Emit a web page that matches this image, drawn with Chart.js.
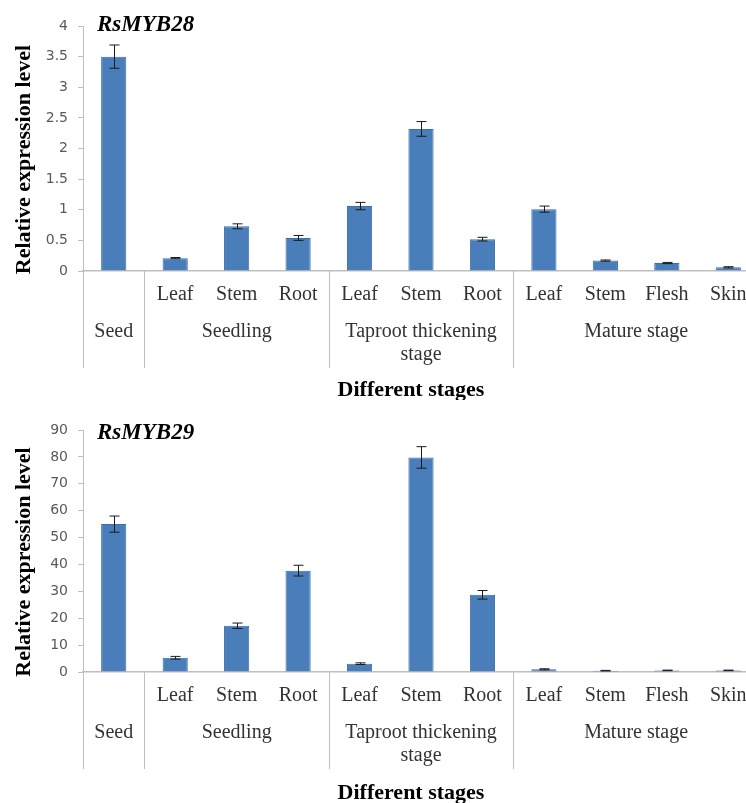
<!DOCTYPE html>
<html>
<head>
<meta charset="utf-8">
<script src="https://cdn.jsdelivr.net/npm/chart.js@4"></script>
<style>
  html, body { margin: 0; padding: 0; background: #fff; overflow: hidden; }
  canvas { display: block; }
</style>
</head>
<body>
<canvas id="chart28" width="760" height="400"></canvas>
<canvas id="chart29" width="760" height="403"></canvas>
<script>
// data
const subLabels = ['', 'Leaf', 'Stem', 'Root', 'Leaf', 'Stem', 'Root', 'Leaf', 'Stem', 'Flesh', 'Skin'];
const groupLabels = [['Seed'], ['Seedling'], ['Taproot thickening', 'stage'], ['Mature stage']];
const groupStart = [0, 1, 4, 7];
const groupEnd = [0, 3, 6, 10];

const myb28Values = [3.50, 0.21, 0.73, 0.54, 1.06, 2.32, 0.52, 1.01, 0.17, 0.13, 0.06];
const myb28Errors = [0.19, 0.01, 0.04, 0.04, 0.06, 0.12, 0.03, 0.05, 0.01, 0.01, 0.01];
const myb29Values = [55.0, 5.3, 17.2, 37.7, 3.1, 79.8, 28.7, 1.0, 0.5, 0.6, 0.6];
const myb29Errors = [3.0, 0.5, 1.0, 2.0, 0.3, 4.0, 1.6, 0.2, 0.1, 0.1, 0.1];

const myb28Axis = { max: 4, step: 0.5 };
const myb29Axis = { max: 90, step: 10 };

const serif = '"Liberation Serif", "Times New Roman", serif';
const axisGray = '#bfbfbf';

const errorBars = {
    id: 'errorBars',
    afterDatasetsDraw(chart, args, opts) {
        const ctx = chart.ctx;
        const meta = chart.getDatasetMeta(0);
        const y = chart.scales.y;
        ctx.save();
        ctx.strokeStyle = '#1a1a1a';
        ctx.lineWidth = 1;
        meta.data.forEach((bar, i) => {
            const v = chart.data.datasets[0].data[i];
            const e = opts.errors[i];
            const top = y.getPixelForValue(v + e);
            const bot = y.getPixelForValue(Math.max(v - e, 0));
            const x = Math.round(bar.x) + 0.5;
            ctx.beginPath();
            ctx.moveTo(x, top); ctx.lineTo(x, bot);
            ctx.moveTo(x - 5, top); ctx.lineTo(x + 5, top);
            ctx.moveTo(x - 5, bot); ctx.lineTo(x + 5, bot);
            ctx.stroke();
        });
        ctx.restore();
    }
};

const groupAxis = {
    id: 'groupAxis',
    afterDraw(chart, args, opts) {
        const ctx = chart.ctx;
        const xs = chart.scales.x;
        const area = chart.chartArea;
        const px = i => xs.getPixelForValue(i);
        ctx.save();
        // separators between groups
        ctx.strokeStyle = axisGray;
        ctx.lineWidth = 1;
        const bounds = [xs.left];
        for (let g = 1; g < groupStart.length; g++) {
            bounds.push((px(groupStart[g] - 1) + px(groupStart[g])) / 2);
        }
        bounds.forEach(b => {
            const x = Math.round(b) + 0.5;
            ctx.beginPath();
            ctx.moveTo(x, area.bottom);
            ctx.lineTo(x, area.bottom + 97);
            ctx.stroke();
        });
        // group labels
        ctx.fillStyle = '#333333';
        ctx.font = '20px ' + serif;
        ctx.textAlign = 'center';
        ctx.textBaseline = 'middle';
        groupLabels.forEach((lines, g) => {
            const cx = (px(groupStart[g]) + px(groupEnd[g])) / 2;
            lines.forEach((t, k) => ctx.fillText(t, cx, area.bottom + 61 + k * 23));
        });
        // axis titles
        ctx.fillStyle = '#000';
        ctx.font = 'bold 22px ' + serif;
        ctx.fillText('Different stages', 411, chart.height - 10);
        ctx.save();
        ctx.translate(24, (area.top + area.bottom) / 2 + 11);
        ctx.rotate(-Math.PI / 2);
        ctx.fillText('Relative expression level', 0, 0);
        ctx.restore();
        // gene name
        ctx.font = 'italic bold 23px ' + serif;
        ctx.textAlign = 'left';
        ctx.fillText(opts.gene, area.left + 14, area.top + opts.geneDy);
        ctx.restore();
    }
};

function makeChart(id, values, errors, axis, gene, topPad, xHeight, geneDy) {
    return new Chart(document.getElementById(id), {
        type: 'bar',
        data: {
            labels: subLabels,
            datasets: [{
                data: values,
                backgroundColor: '#4a7ebb',
                borderColor: '#3d6ea9',
                borderWidth: 1,
                barPercentage: 0.41,
                categoryPercentage: 1
            }]
        },
        options: {
            responsive: false,
            animation: false,
            layout: { padding: { top: topPad, right: 1, left: 0, bottom: 0 } },
            plugins: {
                legend: { display: false },
                tooltip: { enabled: false },
                errorBars: { errors: errors },
                groupAxis: { gene: gene, geneDy: geneDy }
            },
            scales: {
                x: {
                    grid: { display: false, drawTicks: false },
                    border: { display: true, color: axisGray, width: 1.5 },
                    ticks: {
                        color: '#333333',
                        font: { family: serif, size: 20 },
                        padding: 12,
                        maxRotation: 0,
                        autoSkip: false
                    },
                    afterFit: s => { s.height = xHeight; }
                },
                y: {
                    min: 0,
                    max: axis.max,
                    grid: { drawOnChartArea: false, drawTicks: true, tickLength: 5, color: axisGray },
                    border: { display: true, color: axisGray },
                    ticks: {
                        stepSize: axis.step,
                        color: '#595959',
                        padding: 10,
                        font: { family: '"DejaVu Sans", sans-serif', size: 14 },
                        callback: v => String(+v.toFixed(2))
                    },
                    afterFit: s => { s.width = 83; }
                }
            }
        },
        plugins: [errorBars, groupAxis]
    });
}

makeChart('chart28', myb28Values, myb28Errors, myb28Axis, 'RsMYB28', 26, 129, -1);
makeChart('chart29', myb29Values, myb29Errors, myb29Axis, 'RsMYB29', 30, 131, 3);
</script>
</body>
</html>
